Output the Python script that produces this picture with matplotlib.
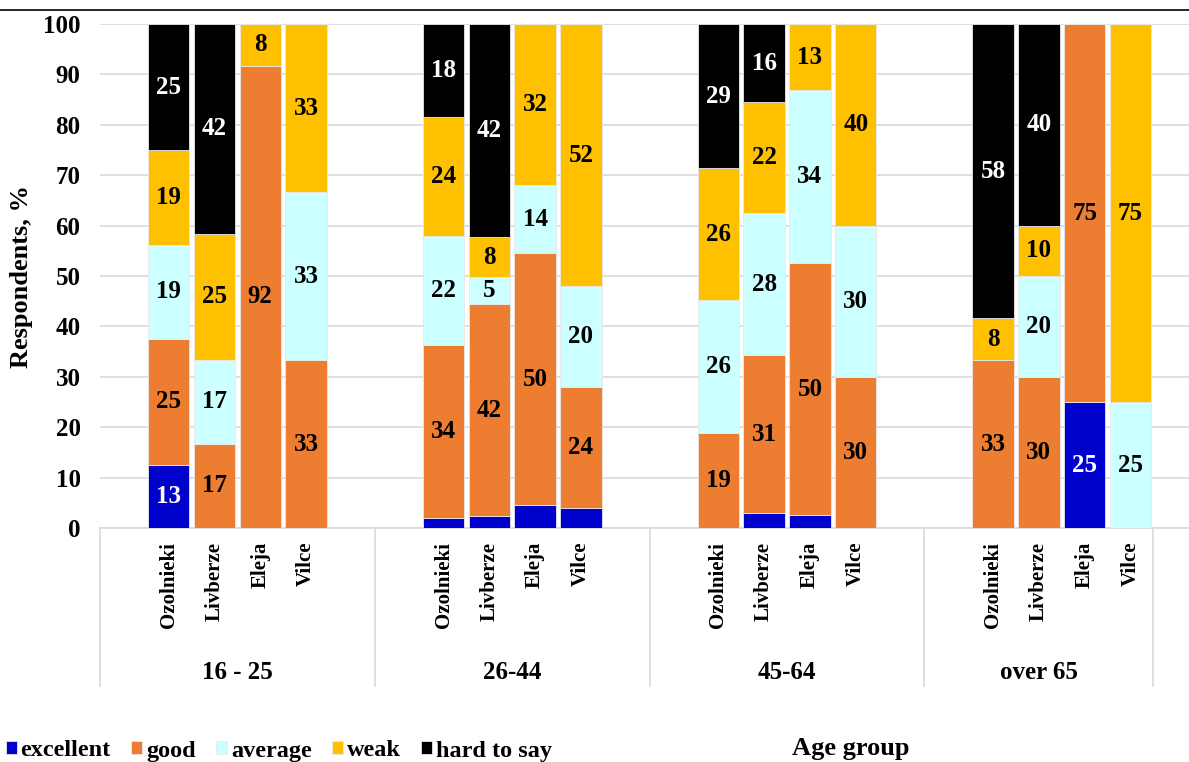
import numpy as np
import matplotlib.pyplot as plt
from matplotlib.lines import Line2D

plt.rcParams['font.family'] = ['Liberation Serif', 'DejaVu Serif']
plt.rcParams['font.weight'] = 'bold'

villages = ["Ozolnieki", "Livberze", "Eleja", "Vilce"]
age_groups = ["16 - 25", "26-44", "45-64", "over 65"]

# shares per village, groups in order 16-25, 26-44, 45-64, over 65
excellent = [12.5, 0, 0, 0, 2.0, 2.4, 4.5, 4.0, 0, 3.0, 2.5, 0, 0, 0, 25.0, 0]
good = [25.0, 16.67, 91.67, 33.33, 34.4, 42.0, 50.0, 24.0, 18.9, 31.3, 50.1, 30.0, 33.33, 30.0, 75.0, 0]
average = [18.75, 16.67, 0, 33.33, 21.6, 5.4, 13.6, 20.0, 26.3, 28.2, 34.3, 30.0, 0, 20.0, 0, 25.0]
weak = [18.75, 25.0, 8.33, 33.34, 23.6, 7.9, 31.9, 52.0, 26.2, 22.0, 13.1, 40.0, 8.33, 10.0, 0, 75.0]
hard = [25.0, 41.67, 0, 0, 18.4, 42.3, 0, 0, 28.6, 15.5, 0, 0, 58.34, 40.0, 0, 0]

series = [
    ("excellent", excellent, "#0000CC", "white"),
    ("good", good, "#ED7D31", "black"),
    ("average", average, "#CCFFFF", "black"),
    ("weak", weak, "#FFC000", "black"),
    ("hard to say", hard, "#000000", "white"),
]

W, H = 1189, 762
fig = plt.figure(figsize=(W / 100, H / 100), dpi=100)
ax = fig.add_axes([100 / W, 1 - 528 / H, 1 - 100 / W, 504 / H])

x = np.array([6 * g + 1.5 + j for g in range(len(age_groups)) for j in range(len(villages))])
bottom = np.zeros(len(x))
handles = []
for name, vals, color, tcol in series:
    vals = np.array(vals, dtype=float)
    bars = ax.bar(x, vals, width=0.9, bottom=bottom, color=color,
                  edgecolor='#e8e8e8', linewidth=0.6, zorder=3, label=name)
    for xi, b, v in zip(x, bottom, vals):
        if v >= 5:
            ax.text(xi, b + v / 2, str(int(np.floor(v + 0.5))), ha='center', va='center',
                    fontsize=18, fontweight='bold', color=tcol, zorder=4)
    bottom += vals
    handles.append(bars)

ax.set_ylim(0, 100)
ax.set_xlim(0, (W - 100) / 45.8)
ax.set_yticks(range(0, 101, 10))
ax.tick_params(axis='y', length=0, pad=14, labelsize=18)
ax.grid(axis='y', color='#d9d9d9', linewidth=1.2, zorder=0)
ax.set_axisbelow(True)
for s in ['top', 'right', 'left']:
    ax.spines[s].set_visible(False)
ax.spines['bottom'].set_color('#d9d9d9')
ax.spines['bottom'].set_linewidth(1.2)

ax.set_xticks(x)
ax.set_xticklabels(villages * len(age_groups), rotation=90, fontsize=15, fontweight='bold')
ax.tick_params(axis='x', length=0, pad=10)

trans = ax.get_xaxis_transform()
for sep in [0, 6, 12, 18, 23]:
    ax.plot([sep, sep], [0, -0.313], transform=trans, color='#d9d9d9',
            linewidth=1.2, clip_on=False)
for g, lab in enumerate(age_groups):
    lo, hi = 6 * g, min(6 * g + 6, 23)
    ax.text((lo + hi) / 2, -0.287, lab, transform=trans, ha='center', va='center',
            fontsize=18, fontweight='bold')

fig.text(22 / W, 1 - 277 / H, "Respondents, %", rotation=90, ha='center', va='center',
         fontsize=19, fontweight='bold')

fig.text(851 / W, 1 - 748 / H, "Age group", ha='center', va='center',
         fontsize=19, fontweight='bold')

fig.add_artist(Line2D([0, 1], [1 - 10 / H, 1 - 10 / H], color='black', linewidth=1.2))

fig.legend(handles=handles, loc='center left', bbox_to_anchor=(6 / W, 1 - 751 / H),
           ncol=5, frameon=False, handlelength=0.45, handleheight=0.45,
           handletextpad=0.15, columnspacing=0.85, borderpad=0, borderaxespad=0,
           prop={'weight': 'bold', 'size': 17.5})

fig.savefig("out.png", dpi=100)
